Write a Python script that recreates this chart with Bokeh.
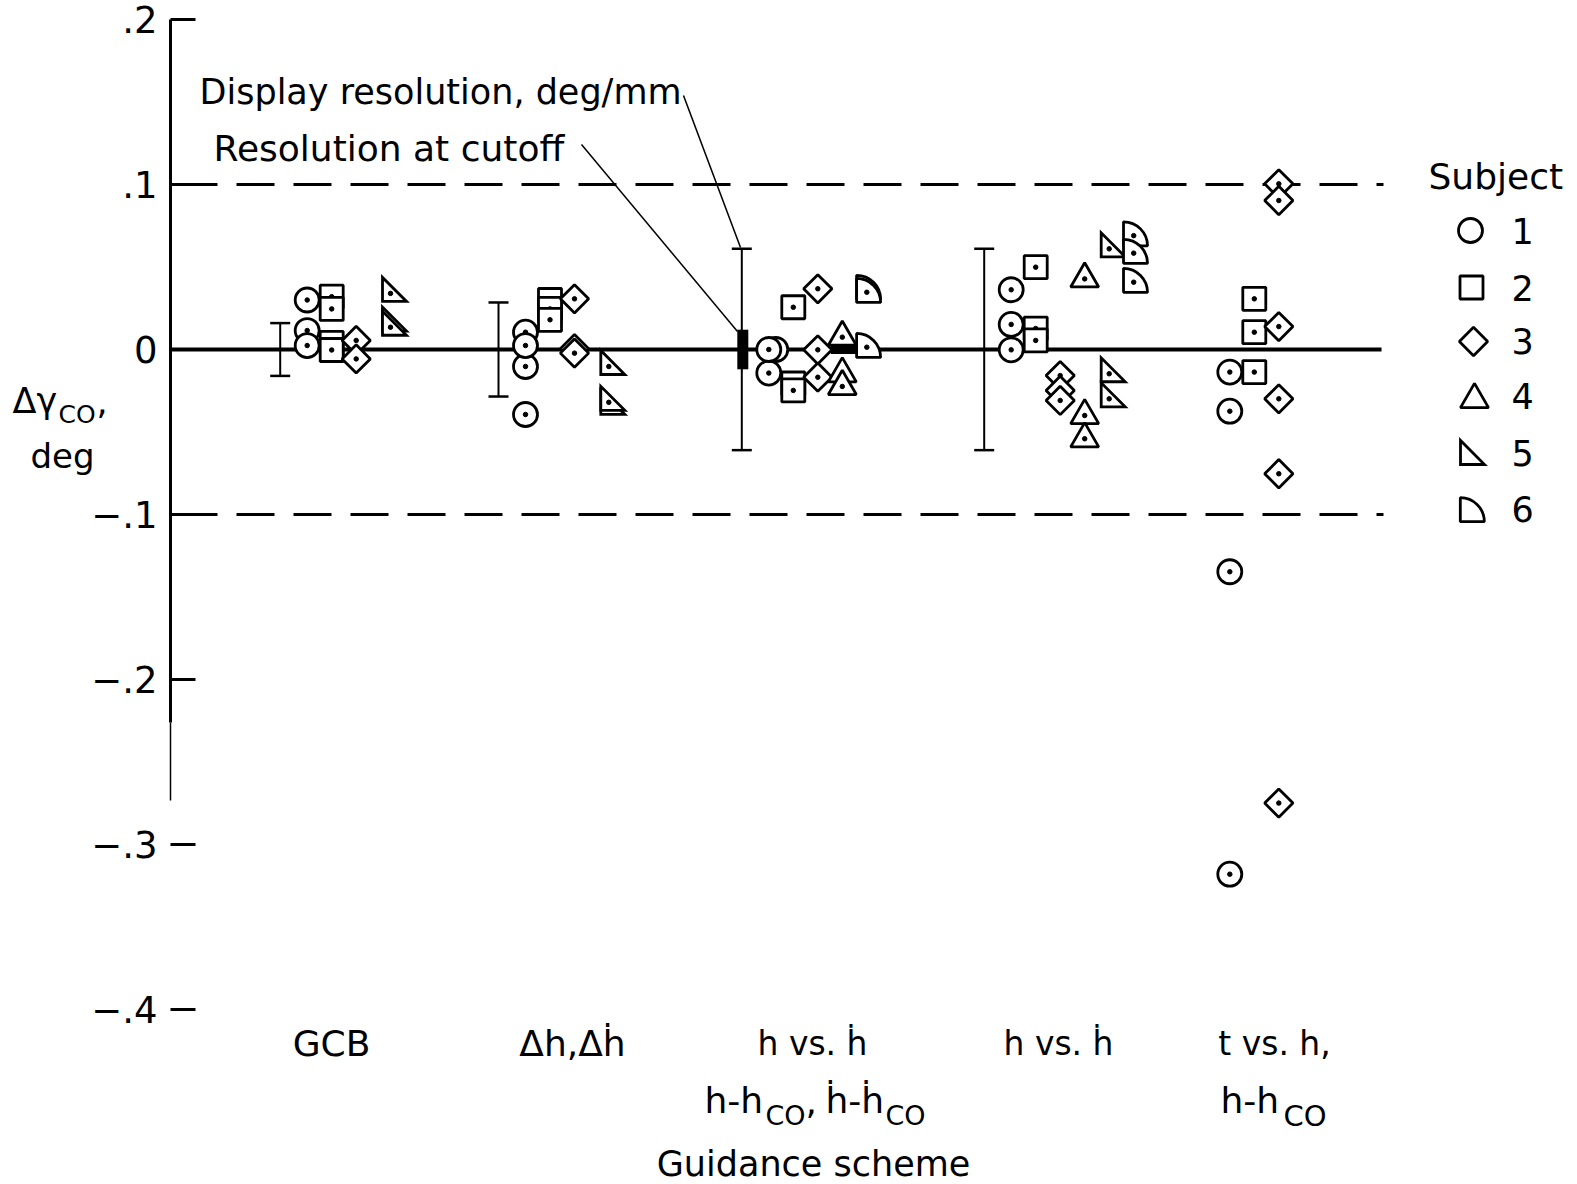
import math
from bokeh.plotting import figure
from bokeh.models import Range1d, FixedTicker, CustomJSTickFormatter, Label
from bokeh.embed import file_html
from bokeh.resources import INLINE

# ---------------- data ----------------
schemes = ["GCB", "Δh,Δḣ", "h vs. ḣ / h-hCO,ḣ-ḣCO", "h vs. ḣ", "t vs. h, h-hCO"]
subject_labels = ["1", "2", "3", "4", "5", "6"]

# values per scheme, listed in drawing order (later ones drawn on top)
subject_1 = [[0.030, 0.0115, 0.0024], [0.0105, -0.0103, 0.0024, -0.0394],
             [-0.0143, 0.0, 0.0], [0.0362, 0.0152, -0.0002],
             [-0.0137, -0.0374, -0.1347, -0.318]]
subject_2 = [[0.032, 0.0246, 0.004, -0.0003], [0.030, 0.0246, 0.018],
             [0.0256, -0.0206, -0.0248], [0.0499, 0.0127, 0.0055],
             [0.0307, 0.0105, -0.0137]]
subject_3 = [[0.0055, -0.0057], [0.0307, 0.0005, -0.0022],
             [0.0368, -0.0002, -0.0168], [-0.0158, -0.0248, -0.0309],
             [0.1004, 0.0903, 0.0139, -0.0299, -0.0753, -0.2749]]
subject_4 = [[], [], [0.0075, -0.0147, -0.0224], [0.0428, -0.040, -0.0541], []]
subject_5 = [[0.034, 0.016, 0.0135], [-0.0103, -0.0345, -0.032], [],
             [0.061, -0.0147, -0.0299], []]
subject_6 = [[], [], [0.0366, 0.0347, 0.0014], [0.069, 0.0584, 0.0408], []]

display_resolution = [0.016, 0.0285, 0.061, 0.061, None]   # deg/mm
cutoff_resolution = [None, None, 0.012, None, None]
boundary_levels = [-0.1, 0.1]
ytick_values = [-0.4, -0.3, -0.2, -0.1, 0.0, 0.1, 0.2]

# ---------------- layout ----------------
FONT = "DejaVu Sans"
W, H = 1577, 1184
Y0 = 349.0      # page px of y = 0
PXU = 1650.0    # page px per data unit in y
AXIS_X = 170


def Y(py):
    return (Y0 - py) / PXU


def dy(px):
    return px / PXU


group_start = [306.7, 525.0, 768.3, 1010.7, 1229.3]
SLOT = 24.5

p = figure(frame_width=W, frame_height=H,
           x_range=Range1d(0, W), y_range=Range1d(Y(H), Y(0)),
           output_backend="svg", toolbar_location=None, x_axis_location=None,
           min_border_left=0, min_border_right=0, min_border_top=0,
           min_border_bottom=0)
p.outline_line_color = None
p.grid.visible = False
p.background_fill_color = "white"
p.border_fill_color = "white"

ax = p.yaxis[0]
ax.fixed_location = AXIS_X
ax.ticker = FixedTicker(ticks=ytick_values)
ax.formatter = CustomJSTickFormatter(code="""
  if (Math.abs(tick) < 1e-9) { return "0"; }
  const s = "." + Math.round(Math.abs(tick) * 10);
  return tick < 0 ? "\u2212" + s : s;
""")
ax.axis_line_color = None
ax.major_tick_in = 25
ax.major_tick_out = 0
ax.major_tick_line_width = 3
ax.major_tick_line_color = "black"
ax.minor_tick_line_color = None
ax.major_label_text_font = FONT
ax.major_label_text_font_size = "37px"
ax.major_label_text_color = "black"
ax.major_label_standoff = 13

# vertical axis line (heavy upper part, thin lower part)
p.segment(x0=[AXIS_X], y0=[0.2], x1=[AXIS_X], y1=[Y(722)], line_width=3, color="black")
p.segment(x0=[AXIS_X], y0=[Y(722)], x1=[AXIS_X], y1=[Y(800)], line_width=1.5, color="black")

# reference lines
p.line([AXIS_X, 1381], [0, 0], line_width=4, color="black")
for lv in boundary_levels:
    p.line([179, 1383], [lv, lv], line_width=3, color="black", line_dash="38 19")

# display resolution bars and cutoff resolution
for g, r in enumerate(display_resolution):
    if r is None:
        continue
    x = group_start[g] - 27
    p.segment(x0=[x], y0=[-r], x1=[x], y1=[r], line_width=2, color="black")
    p.segment(x0=[x - 10, x - 10], y0=[r, -r], x1=[x + 10, x + 10], y1=[r, -r],
              line_width=2.5, color="black")
for g, r in enumerate(cutoff_resolution):
    if r is None:
        continue
    x = group_start[g] - 26
    p.segment(x0=[x], y0=[-r], x1=[x], y1=[r], line_width=11, color="black",
              line_cap="butt")
    p.segment(x0=[group_start[g] + 62], y0=[0], x1=[group_start[g] + 89], y1=[0],
              line_width=9, color="black", line_cap="butt")

# leader lines
p.line([683, 740], [Y(95), Y(247)], line_width=1.5, color="black")
p.line([581, 737], [Y(144), Y(331)], line_width=1.5, color="black")

MK = dict(line_color="black", line_width=2.8, fill_color="white")


def draw_marker(s, x, y, dot=True):
    if s == 0:
        p.scatter([x], [y], marker="circle", size=24, **MK)
    elif s == 1:
        p.scatter([x], [y], marker="square", size=23, **MK)
    elif s == 2:
        p.scatter([x], [y], marker="square", angle=math.pi / 4, size=20, **MK)
    elif s == 3:
        p.scatter([x], [y], marker="triangle", size=28, **MK)
    elif s == 4:
        L = 24.0
        p.patch([x - L / 3, x - L / 3, x + 2 * L / 3],
                [y + dy(2 * L / 3), y - dy(L / 3), y - dy(L / 3)],
                line_join="miter", **MK)
    elif s == 5:
        r = 24.0
        c = 4 * r / (3 * math.pi)
        p.wedge(x=[x - c], y=[y - dy(c)], radius=r, radius_units="screen",
                start_angle=0, end_angle=math.pi / 2, **MK)
    if dot:
        p.scatter([x], [y], marker="circle", size=4.5, color="black")


all_subjects = [subject_1, subject_2, subject_3, subject_4, subject_5, subject_6]
for g in range(len(schemes)):
    present = [s for s in range(6) if all_subjects[s][g]]
    for rank, s in enumerate(present):
        slot = rank + (0.4 if (s == 4 and 3 not in present) else 0.0)
        x = group_start[g] + slot * SLOT
        vals = all_subjects[s][g]
        for i, v in enumerate(vals):
            xx = x + (7 if v in vals[i + 1:] else 0)
            draw_marker(s, xx, v)


def lab(x, py, text, size, align="left"):
    p.add_layout(Label(x=x, y=Y(py), text=text, text_font=FONT,
                       text_font_size=f"{size}px", text_align=align,
                       text_baseline="middle", text_color="black"))


# annotations
lab(199, 91, "Display resolution, deg/mm", 35)
lab(213, 148, "Resolution at cutoff", 36)

# legend
lab(1428, 176, "Subject", 36)
legend_pos = [(1470, 230), (1471, 287), (1473, 341), (1474, 399), (1468, 456), (1470, 511)]
legend_text_y = [230, 287, 340, 395, 452, 508]
for s, ((lx, ly), ty) in enumerate(zip(legend_pos, legend_text_y)):
    draw_marker(s, lx, Y(ly), dot=False)
    lab(1511, ty, subject_labels[s], 35)

# y axis title
lab(12, 400, "Δγ", 35)
lab(58, 414, "CO", 25)
lab(96, 400, ",", 35)
lab(30, 455, "deg", 34)

# scheme labels
row1 = [("GCB", 331, 36), ("Δh,Δḣ", 572, 36), ("h vs. ḣ", 812, 33),
        ("h vs. ḣ", 1058, 33), ("t vs. h,", 1274, 33)]
for t, lx, fs in row1:
    lab(lx, 1043, t, fs, align="center")
lab(704, 1100, "h-h", 36)
lab(765, 1115, "CO", 27)
lab(805, 1100, ",", 36)
lab(825, 1100, "ḣ-ḣ", 36)
lab(885, 1115, "CO", 27)
lab(1220, 1100, "h-h", 36)
lab(1283, 1115, "CO", 29)
lab(813, 1163, "Guidance scheme", 35, align="center")

open("out.html", "w").write(file_html(p, INLINE))
